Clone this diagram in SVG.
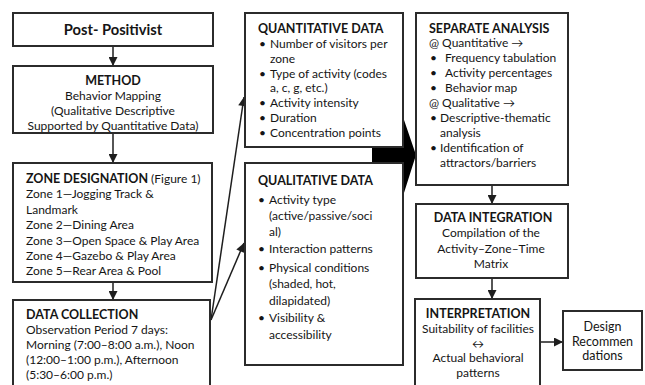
<svg xmlns="http://www.w3.org/2000/svg" width="645" height="385" viewBox="0 0 645 385">
<defs>
<marker id="ah" viewBox="0 0 10 10" refX="10" refY="5" markerWidth="10" markerHeight="9" markerUnits="userSpaceOnUse" orient="auto">
<path d="M0,0 L10,5 L0,10 Z" fill="#1e1e1e"/>
</marker>
<style>
.box{fill:#fff;stroke:#2b2b2b;stroke-width:2}
text{font-family:Lato,"Open Sans","Liberation Sans",sans-serif;font-size:12px;fill:#151515}
.b{font-weight:bold;font-size:12.5px}
.n{font-weight:normal;font-size:12px}
.c{text-anchor:middle}
.edge{stroke:#1e1e1e;stroke-width:1.5;fill:none;marker-end:url(#ah)}
</style>
</defs>
<rect width="645" height="385" fill="#fff"/>

<!-- connectors -->
<g id="connectors">
<line class="edge" x1="113" y1="47" x2="113" y2="66"/>
<line class="edge" x1="113" y1="134" x2="113" y2="163"/>
<line class="edge" x1="113" y1="283" x2="113" y2="300"/>
<line class="edge" x1="211" y1="320" x2="244" y2="97"/>
<line class="edge" x1="211" y1="320" x2="244" y2="243"/>
<line class="edge" x1="492" y1="186" x2="492" y2="204"/>
<line class="edge" x1="492" y1="279" x2="492" y2="299"/>
<line class="edge" x1="541" y1="342" x2="563" y2="342"/>
<!-- thick block arrow into the analysis stage -->
<path d="M372,143 H403 V117 L416,155 L403,196 V170 H372 Z" fill="#000"/>
</g>

<g id="post-positivist">
<rect class="box" x="13" y="13" width="200" height="33"/>
<text class="c" x="113" y="35" style="font-weight:bold;font-size:14.7px">Post- Positivist</text>
</g>

<g id="method">
<rect class="box" x="13" y="66" width="200" height="67"/>
<text class="b c" x="113" y="85">METHOD</text>
<text class="c" x="113" y="100">Behavior Mapping</text>
<text class="c" x="113" y="115">(Qualitative Descriptive</text>
<text class="c" x="113" y="130">Supported by Quantitative Data)</text>
</g>

<g id="zone-designation">
<rect class="box" x="13" y="163" width="199" height="119"/>
<text class="b" x="26" y="183">ZONE DESIGNATION <tspan class="n">(Figure 1)</tspan></text>
<text x="26" y="198">Zone 1—Jogging Track &amp;</text>
<text x="26" y="213.5">Landmark</text>
<text x="26" y="229">Zone 2—Dining Area</text>
<text x="26" y="244.5">Zone 3—Open Space &amp; Play Area</text>
<text x="26" y="260">Zone 4—Gazebo &amp; Play Area</text>
<text x="26" y="275">Zone 5—Rear Area &amp; Pool</text>
</g>

<g id="data-collection">
<rect class="box" x="13" y="300" width="197" height="95"/>
<text class="b" x="26" y="319">DATA COLLECTION</text>
<text x="26" y="334">Observation Period 7 days:</text>
<text x="26" y="349">Morning (7:00–8:00 a.m.), Noon</text>
<text x="26" y="364">(12:00–1:00 p.m.), Afternoon</text>
<text x="26" y="379">(5:30–6:00 p.m.)</text>
</g>

<g id="quantitative-data">
<rect class="box" x="245" y="13" width="158" height="134"/>
<text class="b" x="258" y="33">QUANTITATIVE DATA</text>
<text x="259" y="48">•</text><text x="270" y="48">Number of visitors per</text>
<text x="270" y="63">zone</text>
<text x="259" y="78">•</text><text x="270" y="78">Type of activity (codes</text>
<text x="270" y="92">a, c, g, etc.)</text>
<text x="259" y="107">•</text><text x="270" y="107">Activity intensity</text>
<text x="259" y="122">•</text><text x="270" y="122">Duration</text>
<text x="259" y="137">•</text><text x="270" y="137">Concentration points</text>
</g>

<g id="qualitative-data">
<rect class="box" x="245" y="163" width="158" height="202"/>
<text class="b" x="258" y="185">QUALITATIVE DATA</text>
<text x="258" y="204">•</text><text x="269" y="204">Activity type</text>
<text x="269" y="220">(active/passive/soci</text>
<text x="269" y="236">al)</text>
<text x="258" y="253">•</text><text x="269" y="253">Interaction patterns</text>
<text x="258" y="272">•</text><text x="269" y="272">Physical conditions</text>
<text x="269" y="288">(shaded, hot,</text>
<text x="269" y="305">dilapidated)</text>
<text x="258" y="322">•</text><text x="269" y="322">Visibility &amp;</text>
<text x="269" y="339">accessibility</text>
</g>

<g id="separate-analysis">
<rect class="box" x="416" y="13" width="152" height="172"/>
<text class="b" x="429" y="33">SEPARATE ANALYSIS</text>
<text x="429" y="47">@ Quantitative →</text>
<text x="430" y="62">•</text><text x="445" y="62">Frequency tabulation</text>
<text x="430" y="77">•</text><text x="445" y="77">Activity percentages</text>
<text x="430" y="92">•</text><text x="445" y="92">Behavior map</text>
<text x="429" y="107">@ Qualitative →</text>
<text x="430" y="122">•</text><text x="440" y="122">Descriptive-thematic</text>
<text x="440" y="137">analysis</text>
<text x="430" y="152">•</text><text x="440" y="152">Identification of</text>
<text x="440" y="167">attractors/barriers</text>
</g>

<g id="data-integration">
<rect class="box" x="416" y="204" width="152" height="74"/>
<text class="b c" x="493" y="222">DATA INTEGRATION</text>
<text class="c" x="491" y="237">Compilation of the</text>
<text class="c" x="491" y="253">Activity–Zone–Time</text>
<text class="c" x="491" y="268">Matrix</text>
</g>

<g id="interpretation">
<rect class="box" x="415" y="299" width="125" height="96"/>
<text class="b c" x="478" y="318">INTERPRETATION</text>
<text class="c" x="478" y="333">Suitability of facilities</text>
<text class="c" x="478" y="348">↔</text>
<text class="c" x="478" y="362">Actual behavioral</text>
<text class="c" x="478" y="377">patterns</text>
</g>

<g id="design-recommendations">
<rect class="box" x="563" y="311" width="79" height="59"/>
<text class="c" x="602.5" y="331" style="font-size:12.5px">Design</text>
<text class="c" x="602.5" y="346" style="font-size:12.5px">Recommen</text>
<text class="c" x="602.5" y="360" style="font-size:12.5px">dations</text>
</g>
</svg>
